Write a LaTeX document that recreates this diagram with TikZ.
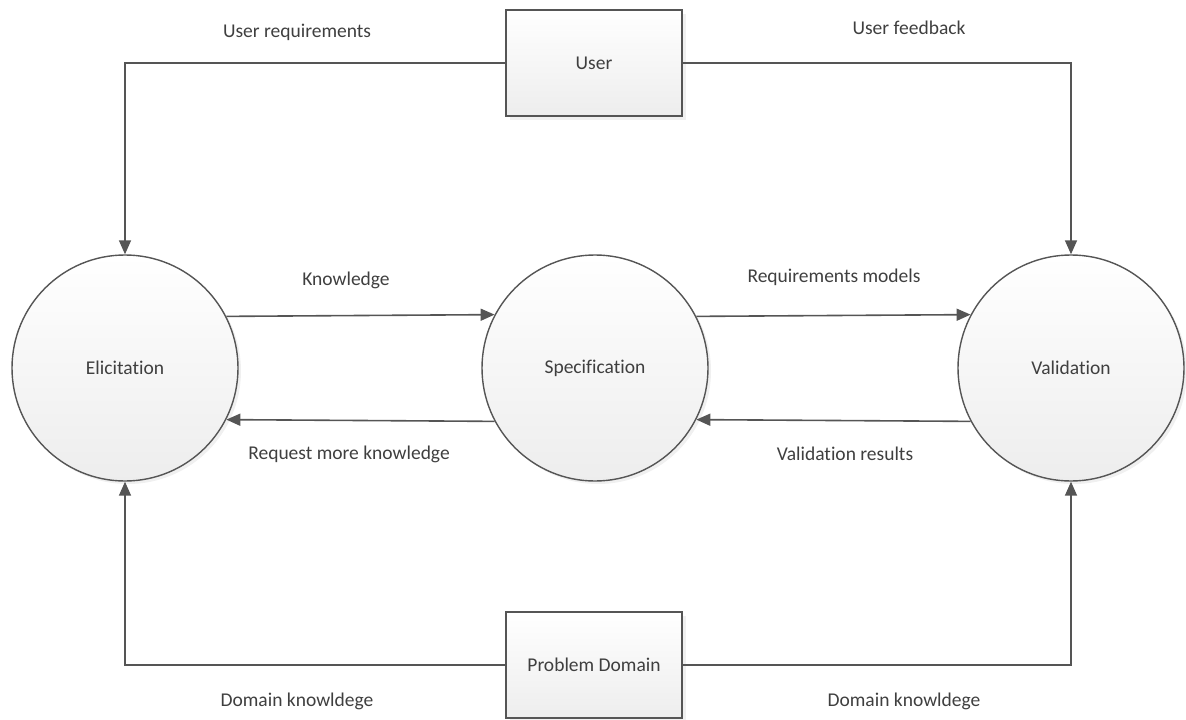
\documentclass[tikz,border=0pt]{standalone}
\usepackage{fontspec}
\setmainfont{Carlito}[Ligatures=NoCommon]
\usetikzlibrary{arrows.meta,shadows}
\definecolor{linegray}{HTML}{555555}
\definecolor{textgray}{HTML}{3F3F3F}
\begin{document}
\begin{tikzpicture}[x=1pt,y=-1pt,
  font=\fontsize{19.5}{23}\selectfont,
  every node/.style={text=textgray},
  proc/.style={circle, draw=linegray, line width=1.4pt, minimum size=226pt,
    inner sep=0pt, top color=white, bottom color=black!7,
    drop shadow={shadow xshift=3pt, shadow yshift=-3pt, opacity=0.12}},
  ent/.style={rectangle, draw=linegray, line width=1.4pt, minimum width=176pt,
    minimum height=106pt, inner sep=0pt, top color=white, bottom color=black!7,
    drop shadow={shadow xshift=4pt, shadow yshift=-4pt, opacity=0.12}},
  flow/.style={draw=linegray, line width=1.6pt,
    -{Triangle[length=14pt,width=12pt]}},
  lbl/.style={inner sep=0pt}]
\useasboundingbox (0,0) rectangle (1186,720);

% processes
\node[proc] (el) at (125,368) {Elicitation};
\node[proc] (sp) at (595,368) {Specification};
\node[proc] (va) at (1071,368) {Validation};

% external entities
\node[ent] (us) at (594,63) {User};
\node[ent] (pd) at (594,665) {Problem Domain};

% flows from the entities
\draw[flow] (us.west) -| (el.north);
\draw[flow] (us.east) -| (va.north);
\draw[flow] (pd.west) -| (el.south);
\draw[flow] (pd.east) -| (va.south);

% flows between the processes
\draw[flow] (el.27.5) -- (sp.152.5);
\draw[flow] (sp.27.5) -- (va.152.5);
\draw[flow] (sp.-152.5) -- (el.-27.5);
\draw[flow] (va.-152.5) -- (sp.-27.5);

% flow labels
\node[lbl] (l1) at (297,32) {User requirements};
\node[lbl] (l2) at (909,28) {User feedback};
\node[lbl] (l3) at (346,280) {Knowledge};
\node[lbl] (l4) at (834,277) {Requirements models};
\node[lbl] (l5) at (349,454) {Request more knowledge};
\node[lbl] (l6) at (845,454) {Validation results};
\node[lbl] (l7) at (297,701) {Domain knowldege};
\node[lbl] (l8) at (904,701) {Domain knowldege};
\end{tikzpicture}
\end{document}
